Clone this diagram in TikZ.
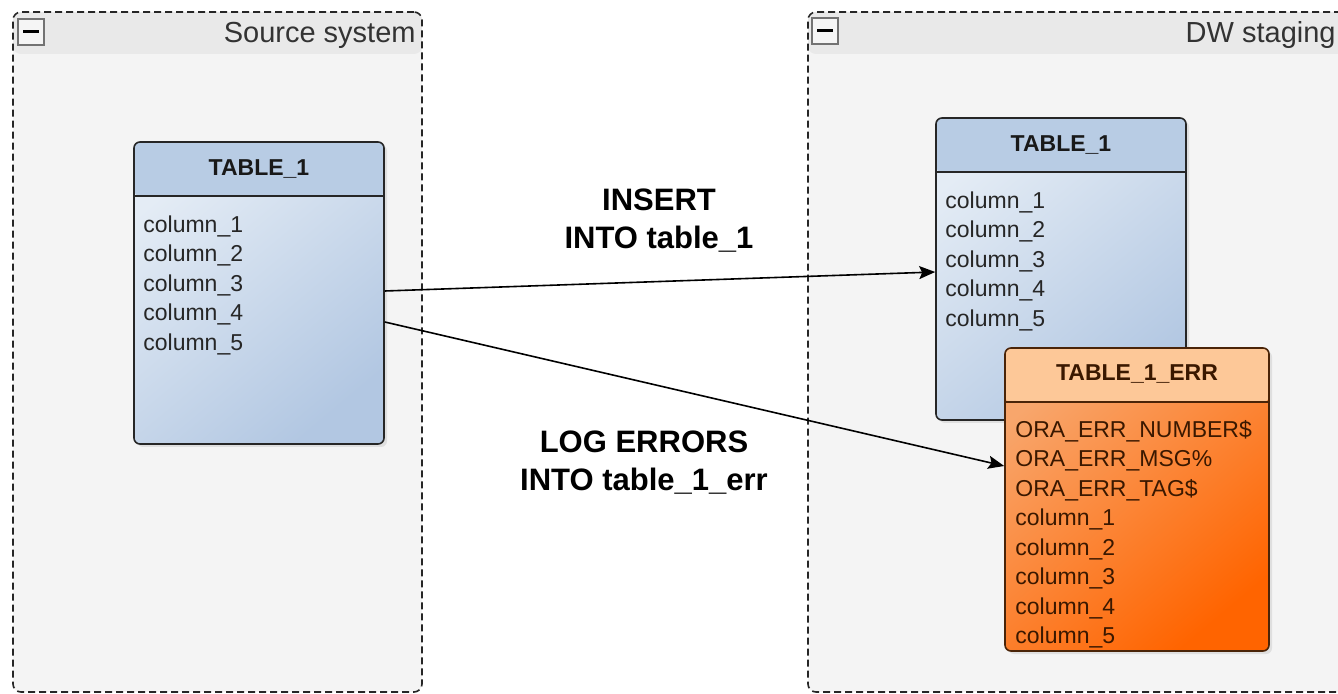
\documentclass[tikz,border=0pt]{standalone}
\usepackage{fontspec}
\setmainfont{Liberation Sans}
\usepackage{tikz}
\usetikzlibrary{shapes,arrows.meta,positioning,shadows}

\definecolor{grpBody}{HTML}{F4F4F4}
\definecolor{grpHead}{HTML}{E9E9E9}
\definecolor{tabHead}{HTML}{B8CCE4}
\definecolor{tabLight}{HTML}{E4ECF5}
\definecolor{tabDark}{HTML}{B2C7E2}
\definecolor{errHead}{HTML}{FDC898}
\definecolor{errLight}{HTML}{F8A66C}
\definecolor{errDark}{HTML}{FF6400}
\definecolor{errLine}{HTML}{4A2408}
\definecolor{errText}{HTML}{3A1800}

\begin{document}
\begin{tikzpicture}[x=0.5pt,y=-0.5pt,
  group/.style={draw=black!85,dash pattern=on 3.5pt off 2pt,line width=0.8pt,rounded corners=4pt,fill=grpBody,
    minimum width=#1,minimum height=340pt,inner sep=0pt,
    path picture={\fill[grpHead] (path picture bounding box.north west) rectangle ([yshift=-21pt]path picture bounding box.north east);}},
  grptitle/.style={font=\fontsize{14.5}{17}\selectfont,text=black!80,inner sep=0pt},
  minbox/.style={draw=black!55,line width=0.6pt,fill=black!4,minimum size=13pt,inner sep=0pt},
  tbl/.style 2 args={draw=#2,line width=0.8pt,rounded corners=3pt,minimum width=125pt,minimum height=151pt,inner sep=0pt,
    drop shadow={shadow xshift=1.5pt,shadow yshift=-1.5pt,opacity=0.18},
    path picture={\fill[#1] (path picture bounding box.north west) rectangle ([yshift=-27pt]path picture bounding box.north east);
      \draw[#2,line width=0.8pt] ([yshift=-27pt]path picture bounding box.north west) -- ([yshift=-27pt]path picture bounding box.north east);}},
  hdrtxt/.style={font=\fontsize{11.5}{13}\bfseries\selectfont,inner sep=0pt},
  rows/.style={font=\fontsize{11.5}{14.75}\selectfont,align=left,inner sep=0pt,anchor=north west},
  lbl/.style={font=\fontsize{15.5}{19}\bfseries\selectfont,align=center,inner sep=0pt},
  arr/.style={-{Stealth[length=8pt,width=6.5pt,inset=1.5pt]},line width=0.8pt,black}]

  \useasboundingbox (0,0) rectangle (1338,694);
  \clip (0,0) rectangle (1338,694);

  % the two groups
  \node[group=204.5pt] at (217.5,352) (srcSys) {};
  \node[group=276pt] at (1084,352) (dwSys) {};
  \node[minbox] at (31,32) (srcMin) {};
  \node[minbox] at (825,31) (dwMin) {};
  \draw[line width=1.5pt] ([xshift=-4pt]srcMin.center) -- ([xshift=4pt]srcMin.center);
  \draw[line width=1.5pt] ([xshift=-4pt]dwMin.center) -- ([xshift=4pt]dwMin.center);
  \node[grptitle,anchor=east] at (416,35) (srcName) {Source system};
  \node[grptitle,anchor=east] at (1336,35) (dwName) {DW staging};

  % tables
  \node[tbl={tabHead}{black!85},top color=tabLight,bottom color=tabDark,shading angle=40] at (259,293) (srcT) {};
  \node[hdrtxt,text=black!90] at (259,169) (srcTitle) {TABLE\_1};
  \node[rows,text=black!85] at (143,215) (srcCols) {column\_1\\column\_2\\column\_3\\column\_4\\column\_5};

  \node[tbl={tabHead}{black!85},top color=tabLight,bottom color=tabDark,shading angle=40] at (1061,269) (stgT) {};
  \node[hdrtxt,text=black!90] at (1061,145) (stgTitle) {TABLE\_1};
  \node[rows,text=black!85] at (945,191) (stgCols) {column\_1\\column\_2\\column\_3\\column\_4\\column\_5};

  \node[tbl={errHead}{errLine},minimum width=132pt,minimum height=151.5pt,top color=errLight,bottom color=errDark,shading angle=40] at (1137,499.5) (errT) {};
  \node[hdrtxt,text=errText] at (1137,374) (errTitle) {TABLE\_1\_ERR};
  \node[rows,text=errText] at (1015,420) (errCols) {ORA\_ERR\_NUMBER\$\\ORA\_ERR\_MSG\%\\ORA\_ERR\_TAG\$\\column\_1\\column\_2\\column\_3\\column\_4\\column\_5};

  % flows
  \draw[arr] ([yshift=1pt]srcT.east) -- ([yshift=-1.5pt]stgT.west);
  \draw[arr] ([yshift=-14.5pt]srcT.east) -- ([yshift=16.75pt]errT.west);
  \node[lbl] at (659,221) (insLbl) {INSERT\\INTO table\_1};
  \node[lbl] at (644,463) (logLbl) {LOG ERRORS\\INTO table\_1\_err};
\end{tikzpicture}
\end{document}
